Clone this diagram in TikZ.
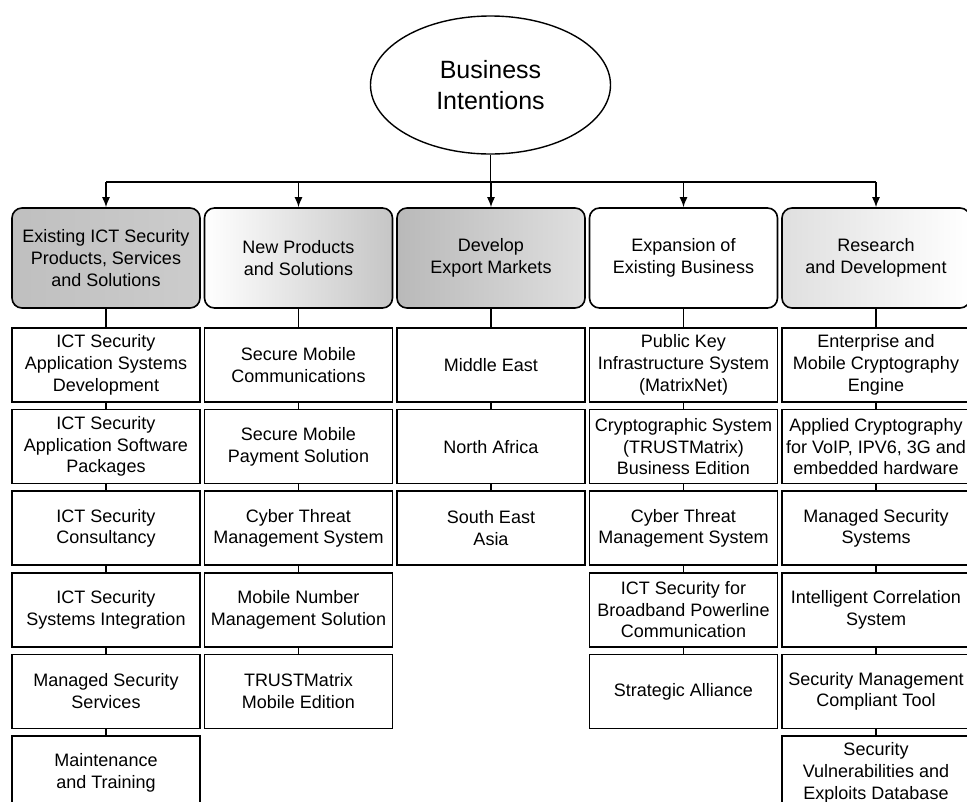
\documentclass[tikz,border=0pt]{standalone}
\usepackage{fontspec}
\setmainfont{Liberation Sans}
\usetikzlibrary{arrows.meta,shapes.geometric}
\tikzset{
  topbox/.style={draw, line width=1.6pt, rounded corners=10pt, minimum width=188pt,
    minimum height=100pt, align=center, inner sep=1pt,
    font=\fontsize{18}{21.7}\selectfont},
  subbox/.style={draw, line width=1.6pt, minimum width=188pt, minimum height=74pt,
    align=center, inner sep=1pt, font=\fontsize{18}{21.7}\selectfont},
  link/.style={line width=1.4pt},
  arr/.style={line width=1.4pt, -{Latex[length=10pt,width=8pt]}},
}
\begin{document}
\begin{tikzpicture}[x=1pt,y=1pt]
\useasboundingbox (0,0) rectangle (967,-801);
\begin{scope}
\clip (0,0) rectangle (967,-801);
% root
\node[draw, ellipse, line width=1.4pt, minimum width=240pt, minimum height=138pt,
  align=center, font=\fontsize{25}{31}\selectfont] (bi) at (490.5,-85) {Business\\Intentions};
\coordinate (bus) at (490.5,-182);

% top level
\node[topbox, left color=gray!50, right color=gray!40] (t1) at (106,-258) {Existing ICT Security\\Products, Services\\and Solutions};
\node[topbox, left color=white, right color=gray!45] (t2) at (298.5,-258) {New Products\\and Solutions};
\node[topbox, left color=gray!55, right color=gray!25] (t3) at (491,-258) {Develop\\Export Markets};
\node[topbox, fill=white] (t4) at (683.5,-258) {Expansion of\\Existing Business};
\node[topbox, left color=gray!25, right color=white] (t5) at (876,-258) {Research\\and Development};

\draw[link] (bi.south) -- (bus);
\draw[link] (bus -| t1.north) -- (bus -| t5.north);
\foreach \t in {t1,t2,t3,t4,t5} \draw[arr] (bus -| \t.north) -- (\t.north);

% column 1
\node[subbox] (a1) at (106,-365)   {ICT Security\\Application Systems\\Development};
\node[subbox] (a2) at (106,-446.6) {ICT Security\\Application Software\\Packages};
\node[subbox] (a3) at (106,-528.2) {ICT Security\\Consultancy};
\node[subbox] (a4) at (106,-609.8) {ICT Security\\Systems Integration};
\node[subbox] (a5) at (106,-691.4) {Managed Security\\Services};
\node[subbox] (a6) at (106,-773)   {Maintenance\\and Training};
% column 2
\node[subbox] (b1) at (298.5,-365)   {Secure Mobile\\Communications};
\node[subbox] (b2) at (298.5,-446.6) {Secure Mobile\\Payment Solution};
\node[subbox] (b3) at (298.5,-528.2) {Cyber Threat\\Management System};
\node[subbox] (b4) at (298.5,-609.8) {Mobile Number\\Management Solution};
\node[subbox] (b5) at (298.5,-691.4) {TRUSTMatrix\\Mobile Edition};
% column 3
\node[subbox] (c1) at (491,-365)   {Middle East};
\node[subbox] (c2) at (491,-446.6) {North Africa};
\node[subbox] (c3) at (491,-528.2) {South East\\Asia};
% column 4
\node[subbox] (d1) at (683.5,-365)   {Public Key\\Infrastructure System\\(MatrixNet)};
\node[subbox] (d2) at (683.5,-446.6) {Cryptographic System\\(TRUSTMatrix)\\Business Edition};
\node[subbox] (d3) at (683.5,-528.2) {Cyber Threat\\Management System};
\node[subbox] (d4) at (683.5,-609.8) {ICT Security for\\Broadband Powerline\\Communication};
\node[subbox] (d5) at (683.5,-691.4) {Strategic Alliance};
% column 5
\node[subbox] (e1) at (876,-365)   {Enterprise and\\Mobile Cryptography\\Engine};
\node[subbox] (e2) at (876,-446.6) {Applied Cryptography\\for VoIP, IPV6, 3G and\\embedded hardware};
\node[subbox] (e3) at (876,-528.2) {Managed Security\\Systems};
\node[subbox] (e4) at (876,-609.8) {Intelligent Correlation\\System};
\node[subbox] (e5) at (876,-691.4) {Security Management\\Compliant Tool};
\node[subbox] (e6) at (876,-773)   {Security\\Vulnerabilities and\\Exploits Database};

% vertical links
\draw[link] (t1.south) -- (a1.north);
\foreach \u/\v in {a1/a2,a2/a3,a3/a4,a4/a5,a5/a6} \draw[link] (\u.south) -- (\v.north);
\draw[link] (t2.south) -- (b1.north);
\foreach \u/\v in {b1/b2,b2/b3,b3/b4,b4/b5} \draw[link] (\u.south) -- (\v.north);
\draw[link] (t3.south) -- (c1.north);
\foreach \u/\v in {c1/c2,c2/c3} \draw[link] (\u.south) -- (\v.north);
\draw[link] (t4.south) -- (d1.north);
\foreach \u/\v in {d1/d2,d2/d3,d3/d4,d4/d5} \draw[link] (\u.south) -- (\v.north);
\draw[link] (t5.south) -- (e1.north);
\foreach \u/\v in {e1/e2,e2/e3,e3/e4,e4/e5,e5/e6} \draw[link] (\u.south) -- (\v.north);
\end{scope}
\end{tikzpicture}
\end{document}
